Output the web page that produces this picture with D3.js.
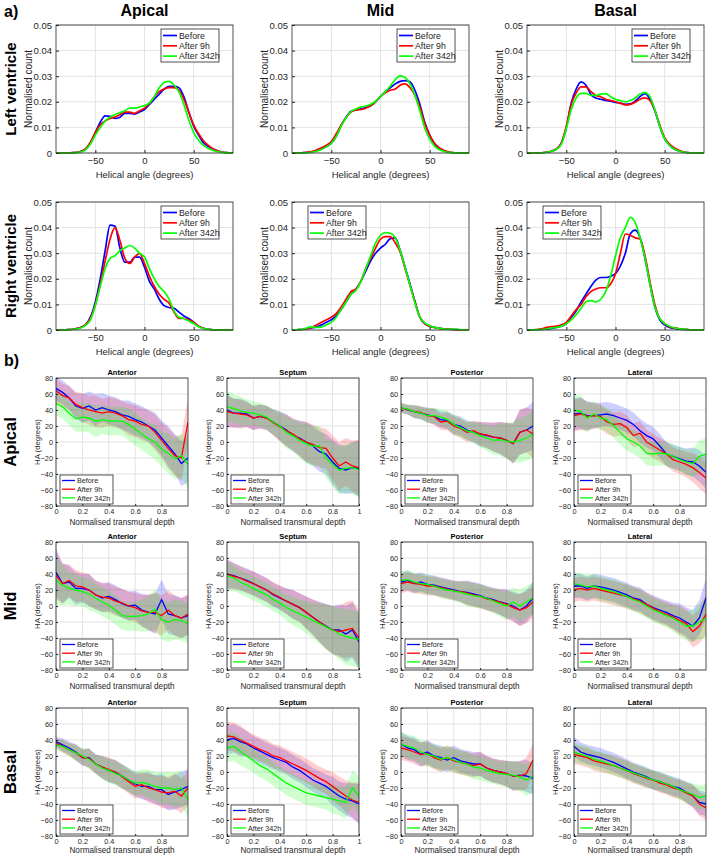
<!DOCTYPE html>
<html>
<head>
<meta charset="utf-8">
<script src="https://cdn.jsdelivr.net/npm/d3@7"></script>
<style>
  body { margin: 0; background: #fff; }
  svg { font-family: "Liberation Sans", Arial, sans-serif; display: block; }
</style>
</head>
<body>
<div id="chart"></div>
<script>
// ---- a) helical angle histograms (grid -90..90 every 5 deg) ----
const haGrid = d3.range(-90, 91, 5);
const seriesNames = ['Before', 'After 9h', 'After 342h'];
const seriesColors = ['#0000ff', '#ff0000', '#00ff00'];
const levels = ['Apical', 'Mid', 'Basal'];
const ventricles = ['Left ventricle', 'Right ventricle'];

const lvApicalBefore = [0,0,0,.0001,.0002,.0006,.0015,.004,.008,.012,.0145,.0143,.0135,.014,.0155,.0155,.0152,.016,.017,.019,.021,.023,.025,.026,.026,.0255,.022,.016,.0105,.007,.004,.0025,.0015,.0008,.0003,.0001,0];
const lvApical9h     = [0,0,0,.0001,.0002,.0006,.0016,.0042,.008,.011,.0125,.0135,.014,.015,.016,.016,.0155,.0165,.0175,.0195,.022,.024,.025,.0255,.0255,.0245,.021,.016,.011,.0075,.0048,.003,.0016,.0008,.0003,.0001,0];
const lvApical342h   = [0,0,0,0,.0001,.0004,.0012,.0035,.007,.010,.0125,.014,.015,.0158,.0165,.0175,.0175,.018,.0185,.0195,.022,.0255,.0275,.028,.0265,.024,.019,.013,.008,.005,.003,.0018,.001,.0005,.0002,0,0];

const lvMidBefore = [0,0,.0001,.0002,.0005,.001,.0017,.0025,.0038,.0065,.0108,.014,.0163,.0168,.0173,.0178,.0185,.02,.022,.024,.0255,.027,.028,.0283,.0278,.0245,.019,.012,.007,.0035,.0018,.0008,.0003,.0001,0,0,0];
const lvMid9h     = [0,0,.0001,.0003,.0006,.0012,.002,.003,.0045,.0075,.011,.0138,.016,.0168,.017,.0175,.0185,.02,.022,.0235,.0245,.025,.0265,.027,.0255,.0225,.018,.0115,.007,.0038,.002,.001,.0004,.0001,0,0,0];
const lvMid342h   = [0,0,0,.0001,.0003,.0007,.0014,.0024,.0038,.0065,.0105,.0138,.0162,.0172,.018,.0183,.019,.0202,.022,.024,.0262,.0287,.0301,.0295,.027,.0225,.0165,.0098,.0054,.0027,.0013,.0006,.0002,.0001,0,0,0];

const lvBasalBefore = [0,0,0,.0001,.0003,.0007,.0015,.004,.010,.0195,.025,.0278,.0265,.0228,.0215,.021,.0205,.0202,.0198,.0195,.019,.0192,.0203,.022,.0232,.021,.0165,.0105,.0055,.003,.0015,.0008,.0003,.0001,0,0,0];
const lvBasal9h     = [0,0,0,.0001,.0004,.0008,.0016,.004,.0105,.019,.0235,.0258,.0258,.024,.0225,.022,.021,.0205,.020,.0195,.0188,.019,.0198,.021,.0215,.0205,.0168,.011,.006,.0035,.002,.001,.0004,.0001,0,0,0];
const lvBasal342h   = [0,0,0,.0001,.0003,.0007,.0014,.0035,.0095,.017,.0215,.0233,.0233,.0225,.0225,.023,.0232,.022,.021,.0205,.020,.0205,.0215,.023,.0236,.022,.017,.0105,.0055,.003,.0015,.0007,.0003,.0001,0,0,0];

const rvApicalBefore = [0,0,.0001,.0002,.0005,.001,.002,.005,.011,.020,.031,.041,.0405,.032,.0265,.0265,.0285,.0285,.0245,.019,.016,.012,.0095,.0088,.0085,.007,.0055,.0045,.003,.0015,.0007,.0003,.0001,0,0,0,0];
const rvApical9h     = [0,0,.0001,.0002,.0005,.001,.002,.0045,.010,.018,.027,.0355,.040,.035,.028,.026,.0285,.0298,.026,.021,.017,.014,.012,.0105,.007,.0045,.0045,.004,.003,.0015,.0007,.0003,.0001,0,0,0,0];
const rvApical342h   = [0,0,.0001,.0002,.0004,.0008,.0018,.004,.0095,.017,.024,.028,.029,.031,.032,.033,.032,.030,.0285,.024,.020,.017,.015,.012,.0075,.005,.0045,.0035,.0025,.0013,.0006,.0003,.0001,0,0,0,0];

const rvMidBefore = [0,.0001,.0002,.0005,.0008,.0012,.002,.003,.004,.0055,.008,.011,.014,.016,.019,.023,.027,.030,.032,.0335,.0357,.036,.031,.0245,.018,.0112,.005,.0025,.0015,.001,.0006,.0004,.0003,.0002,.0001,0,0];
const rvMid9h     = [0,.0001,.0002,.0005,.001,.002,.003,.004,.005,.0065,.009,.012,.015,.016,.019,.024,.028,.032,.0355,.0365,.0365,.034,.0305,.024,.0175,.011,.005,.0025,.0015,.001,.0006,.0004,.0003,.0002,.0001,0,0];
const rvMid342h   = [0,.0001,.0002,.0008,.0012,.001,.0012,.002,.003,.005,.008,.011,.014,.0155,.019,.024,.029,.034,.037,.038,.0378,.036,.031,.0245,.0175,.0105,.005,.0028,.0017,.001,.0006,.0004,.0003,.0004,.0002,0,0];

const rvBasalBefore = [0,0,.0001,.0002,.0003,.0006,.001,.0015,.0025,.005,.0075,.011,.014,.017,.0195,.0205,.0205,.021,.022,.025,.030,.0375,.039,.036,.028,.018,.009,.004,.002,.001,.0006,.0003,.0002,.0001,0,0,0];
const rvBasal9h     = [0,0,.0002,.0005,.001,.0013,.0015,.002,.003,.0055,.008,.010,.013,.015,.016,.0165,.0165,.018,.022,.030,.0375,.037,.036,.0355,.029,.019,.010,.0045,.0025,.0013,.0008,.0005,.0003,.0001,0,0,0];
const rvBasal342h   = [0,0,.0001,.0002,.0004,.0008,.001,.0015,.0025,.004,.006,.0085,.011,.0115,.011,.012,.015,.021,.029,.036,.040,.044,.042,.036,.028,.018,.009,.0045,.0025,.0015,.0008,.0005,.0003,.0001,0,0,0];

// ---- b) HA vs normalised transmural depth (every 0.05) ----
const depthGrid = d3.range(21).map(i => i / 20);
const regions = ['Anterior', 'Septum', 'Posterior', 'Lateral'];

const apAntBefore = [67,62,55,45,42,45,40,43,40,38,34,32,28,25,20,15,5,-5,-15,-27,-20];
const apAnt9h     = [64,58,55,47,43,40,38,36,38,36,33,28,26,22,20,12,2,-8,-17,-20,25];
const apAnt342h   = [48,44,36,29,31,30,26,28,26,26,26,22,16,10,4,0,-9,-14,-21,-17,-28];
const apAntSpread = [15,15,15,16,18,18,20,18,18,18,18,20,20,20,20,22,22,25,25,28,30];

const apSepBefore = [40,36,36,35,30,32,30,25,20,15,8,5,0,-5,-12,-15,-25,-33,-35,-32,-33];
const apSep9h     = [38,36,35,34,30,32,30,24,19,14,10,4,0,-3,-7,-8,-20,-30,-25,-30,-32];
const apSep342h   = [44,42,39,37,36,34,31,25,20,12,8,2,-2,-5,-5,-20,-28,-35,-33,-32,-35];
const apSepSpread = [20,18,18,16,15,15,15,16,18,20,20,22,25,25,25,25,28,30,30,32,35];

const apPostBefore = [43,40,38,36,34,32,28,27,22,20,15,12,10,8,6,5,2,-2,12,15,20];
const apPost9h     = [42,41,38,37,33,32,25,26,20,17,12,14,10,9,6,5,2,-2,12,15,10];
const apPost342h   = [43,41,38,36,33,33,31,28,22,18,14,12,8,5,2,3,1,0,2,5,10];
const apPostSpread = [6,6,8,8,9,10,10,11,12,12,12,13,15,16,18,20,22,25,28,28,30];

const apLatBefore = [35,36,33,33,34,35,33,30,27,22,14,8,4,-5,-15,-18,-21,-24,-25,-30,-38];
const apLat9h     = [33,35,32,33,32,25,22,23,18,8,11,0,-5,-10,-15,-22,-25,-28,-32,-38,-45];
const apLat342h   = [40,38,30,35,30,28,20,12,4,0,-5,-14,-15,-14,-15,-18,-22,-25,-27,-18,-15];
const apLatSpread = [20,20,18,16,15,15,15,15,15,15,15,15,15,15,15,15,15,16,18,20,20];

const midAntBefore = [42,28,30,22,22,20,14,10,12,8,3,0,1,-5,-8,-10,8,-10,-12,-15,-12];
const midAnt9h     = [38,28,32,25,24,20,14,11,10,6,4,0,-2,-6,-8,-8,-12,-5,-12,-15,-10];
const midAnt342h   = [32,26,22,20,18,15,10,5,1,-5,-12,-13,-13,-12,-10,-4,-17,-20,-17,-18,-22];
const midAntSpread = [30,25,20,20,18,20,18,18,18,18,18,18,18,20,22,25,25,25,25,25,25];

const midSepBefore = [40,38,35,32,28,24,20,14,10,6,2,-2,-8,-14,-20,-25,-30,-30,-35,-30,-45];
const midSep9h     = [40,37,35,31,28,24,20,15,11,6,2,-2,-8,-14,-20,-26,-30,-32,-30,-28,-40];
const midSep342h   = [38,35,30,26,22,18,14,8,4,-2,-6,-10,-14,-18,-22,-26,-30,-35,-38,-40,-42];
const midSepSpread = [18,16,15,15,15,15,15,15,15,16,18,18,20,22,25,28,30,32,35,35,35];

const midPostBefore = [30,32,28,30,27,26,24,22,20,18,17,15,13,10,8,5,3,0,-5,0,10];
const midPost9h     = [28,30,28,27,25,25,23,21,19,18,16,14,12,9,7,5,2,-2,-5,-2,5];
const midPost342h   = [32,33,30,28,27,25,22,20,19,17,15,13,12,10,6,3,0,5,0,5,10];
const midPostSpread = [12,12,12,12,12,12,12,12,12,13,15,15,15,15,15,16,18,18,20,20,20];

const midLatBefore = [25,25,22,25,24,22,20,17,14,10,8,2,-2,-5,-8,-12,-15,-20,-25,-15,10];
const midLat9h     = [20,22,20,22,20,18,16,14,12,9,6,2,-3,-7,-10,-14,-18,-22,-32,-25,-10];
const midLat342h   = [28,26,24,25,22,20,18,15,12,8,5,0,-5,-8,-12,-15,-20,-25,-25,-20,-15];
const midLatSpread = [15,15,15,15,15,15,15,15,15,15,15,15,15,15,15,16,18,18,20,22,25];

const basAntBefore = [38,34,30,25,18,18,10,6,2,0,-5,-10,-15,-18,-18,-22,-22,-28,-25,-22,-18];
const basAnt9h     = [36,32,28,24,18,17,10,6,3,0,-6,-12,-18,-16,-20,-22,-25,-26,-24,-30,-20];
const basAnt342h   = [34,32,28,24,20,16,10,5,2,-2,-5,-10,-14,-13,-15,-18,-20,-20,-22,-20,-35];
const basAntSpread = [6,8,8,10,10,12,12,14,15,15,15,15,15,16,18,18,20,20,22,22,22];

const basSepBefore = [40,42,38,35,30,26,22,18,15,12,6,2,-4,-10,-14,-18,-24,-30,-34,-36,-40];
const basSep9h     = [45,44,40,36,32,28,25,20,18,14,10,6,2,-3,-8,-12,-18,-24,-30,-35,-38];
const basSep342h   = [30,32,26,20,14,8,4,-2,-8,-14,-18,-22,-26,-28,-30,-32,-34,-36,-38,-20,-30];
const basSepSpread = [18,18,18,16,15,15,15,15,15,15,15,15,15,15,15,15,18,18,20,22,25];

const basPostBefore = [35,30,28,22,25,20,18,15,18,14,12,10,10,5,2,0,-2,-5,-4,-5,-8];
const basPost9h     = [30,28,25,22,23,18,15,18,14,12,10,8,10,5,2,0,-2,-5,-5,-2,15];
const basPost342h   = [35,32,30,25,22,20,16,18,15,12,10,6,5,2,0,-2,-3,-4,-6,-10,-5];
const basPostSpread = [15,15,15,15,15,15,15,15,15,15,15,15,15,15,15,15,16,18,18,20,20];

const basLatBefore = [32,25,22,20,18,15,12,8,4,0,-3,-6,-10,-12,-15,-18,-20,-25,-30,-38,-40];
const basLat9h     = [22,20,18,14,12,10,8,5,2,-2,-5,-8,-10,-14,-16,-20,-22,-26,-30,-40,-45];
const basLat342h   = [25,22,20,16,14,11,8,5,2,-1,-4,-7,-10,-12,-15,-18,-22,-25,-28,-32,-30];
const basLatSpread = [12,12,12,12,12,12,12,12,12,12,12,12,12,12,12,12,12,13,14,15,15];

// panel tables built from the arrays above
const densityPanels = [
  [[lvApicalBefore, lvApical9h, lvApical342h], [lvMidBefore, lvMid9h, lvMid342h], [lvBasalBefore, lvBasal9h, lvBasal342h]],
  [[rvApicalBefore, rvApical9h, rvApical342h], [rvMidBefore, rvMid9h, rvMid342h], [rvBasalBefore, rvBasal9h, rvBasal342h]]
];
const haPanels = [
  [[apAntBefore, apAnt9h, apAnt342h, apAntSpread], [apSepBefore, apSep9h, apSep342h, apSepSpread],
   [apPostBefore, apPost9h, apPost342h, apPostSpread], [apLatBefore, apLat9h, apLat342h, apLatSpread]],
  [[midAntBefore, midAnt9h, midAnt342h, midAntSpread], [midSepBefore, midSep9h, midSep342h, midSepSpread],
   [midPostBefore, midPost9h, midPost342h, midPostSpread], [midLatBefore, midLat9h, midLat342h, midLatSpread]],
  [[basAntBefore, basAnt9h, basAnt342h, basAntSpread], [basSepBefore, basSep9h, basSep342h, basSepSpread],
   [basPostBefore, basPost9h, basPost342h, basPostSpread], [basLatBefore, basLat9h, basLat342h, basLatSpread]]
];

const svg = d3.select('#chart').append('svg')
  .attr('width', 708)
  .attr('height', 857);

const gridColor = '#e3e3e3';
const boxColor = '#262626';

// ---------- a) ----------
const aLefts = [56, 292, 527], aTops = [25, 202];
const aW = 177, aH = 128;

svg.append('text').attr('x', 4).attr('y', 17)
  .style('font-size', '16px').style('font-weight', 'bold').text('a)');

levels.forEach((lv, i) => {
  svg.append('text').attr('x', aLefts[i] + aW / 2).attr('y', 16)
    .attr('text-anchor', 'middle')
    .style('font-size', '16px').style('font-weight', 'bold').text(lv);
});
ventricles.forEach((v, r) => {
  svg.append('text')
    .attr('transform', `translate(16, ${aTops[r] + aH / 2}) rotate(-90)`)
    .attr('text-anchor', 'middle')
    .style('font-size', '15px').style('font-weight', 'bold').text(v);
});

densityPanels.forEach((row, r) => {
  row.forEach((series, c) => {
    const g = svg.append('g').attr('transform', `translate(${aLefts[c]}, ${aTops[r]})`);
    const x = d3.scaleLinear().domain([-90, 90]).range([0, aW]);
    const y = d3.scaleLinear().domain([0, 0.05]).range([aH, 0]);

    g.append('g').selectAll('line').data([-50, 0, 50]).enter().append('line')
      .attr('x1', d => x(d)).attr('x2', d => x(d)).attr('y1', 0).attr('y2', aH)
      .attr('stroke', gridColor);
    g.append('g').selectAll('line').data(y.ticks(5)).enter().append('line')
      .attr('y1', d => y(d)).attr('y2', d => y(d)).attr('x1', 0).attr('x2', aW)
      .attr('stroke', gridColor);

    const line = d3.line()
      .x((d, i) => x(haGrid[i]))
      .y(d => y(d))
      .curve(d3.curveMonotoneX);
    series.forEach((s, k) => {
      g.append('path').datum(s)
        .attr('d', line)
        .attr('fill', 'none')
        .attr('stroke', seriesColors[k])
        .attr('stroke-width', 1.7);
    });

    const xAxis = g.append('g').attr('transform', `translate(0, ${aH})`)
      .call(d3.axisBottom(x).tickValues([-50, 0, 50]).tickSize(-3).tickPadding(4));
    const yAxis = g.append('g')
      .call(d3.axisLeft(y).ticks(5).tickSize(-3).tickPadding(4)
        .tickFormat(d => d === 0 ? '0' : d3.format('.2f')(d)));
    [xAxis, yAxis].forEach(ax => {
      ax.select('.domain').remove();
      ax.selectAll('line').attr('stroke', boxColor);
      ax.selectAll('text').style('font-size', '9.5px').attr('fill', '#262626');
    });

    g.append('rect').attr('width', aW).attr('height', aH)
      .attr('fill', 'none').attr('stroke', boxColor).attr('stroke-width', 0.8);

    g.append('text').attr('x', aW / 2).attr('y', aH + 25)
      .attr('text-anchor', 'middle').style('font-size', '9.5px').attr('fill', '#262626')
      .text('Helical angle (degrees)');
    g.append('text')
      .attr('transform', `translate(-24.5, ${aH / 2}) rotate(-90)`)
      .attr('text-anchor', 'middle').style('font-size', '10px').attr('fill', '#262626')
      .text('Normalised count');

    // legend
    const lx = (r === 1 && c > 0) ? 16 : aW - 72;
    const leg = g.append('g').attr('transform', `translate(${lx}, 4)`);
    leg.append('rect').attr('width', 58).attr('height', 33)
      .attr('fill', '#fff').attr('stroke', boxColor).attr('stroke-width', 0.8);
    seriesNames.forEach((n, k) => {
      leg.append('line').attr('x1', 2).attr('x2', 16)
        .attr('y1', 6.5 + k * 10.3).attr('y2', 6.5 + k * 10.3)
        .attr('stroke', seriesColors[k]).attr('stroke-width', 1.7);
      leg.append('text').attr('x', 18).attr('y', 9.7 + k * 10.3)
        .style('font-size', '8.8px').attr('fill', '#262626').text(n);
    });
  });
});

// ---------- b) ----------
const bLefts = [56, 227, 401, 574], bTops = [378, 542, 708];
const bW = 132, bH = 128;

svg.append('text').attr('x', 4).attr('y', 366)
  .style('font-size', '16px').style('font-weight', 'bold').text('b)');

levels.forEach((lv, r) => {
  svg.append('text')
    .attr('transform', `translate(16, ${bTops[r] + bH / 2}) rotate(-90)`)
    .attr('text-anchor', 'middle')
    .style('font-size', '16.5px').style('font-weight', 'bold').text(lv);
});

haPanels.forEach((row, r) => {
  row.forEach((p, c) => {
    const g = svg.append('g').attr('transform', `translate(${bLefts[c]}, ${bTops[r]})`);
    const x = d3.scaleLinear().domain([0, 1]).range([0, bW]);
    const y = d3.scaleLinear().domain([-80, 80]).range([bH, 0]);
    const clipId = `clip-${r}-${c}`;
    g.append('clipPath').attr('id', clipId)
      .append('rect').attr('width', bW).attr('height', bH);

    const xt = c === 1 ? [0, 0.2, 0.4, 0.6, 0.8, 1] : [0, 0.2, 0.4, 0.6, 0.8];
    g.append('g').selectAll('line').data(xt).enter().append('line')
      .attr('x1', d => x(d)).attr('x2', d => x(d)).attr('y1', 0).attr('y2', bH)
      .attr('stroke', gridColor);
    g.append('g').selectAll('line').data(d3.range(-80, 81, 20)).enter().append('line')
      .attr('y1', d => y(d)).attr('y2', d => y(d)).attr('x1', 0).attr('x2', bW)
      .attr('stroke', gridColor);

    const spread = p[3];
    const plot = g.append('g').attr('clip-path', `url(#${clipId})`);
    const area = d3.area()
      .x((d, i) => x(depthGrid[i]))
      .y0((d, i) => y(d - spread[i]))
      .y1((d, i) => y(d + spread[i]));
    [0, 1, 2].forEach(k => {
      plot.append('path').datum(p[k])
        .attr('d', area)
        .attr('fill', seriesColors[k])
        .attr('fill-opacity', 0.19)
        .attr('stroke', 'none');
    });
    const line = d3.line()
      .x((d, i) => x(depthGrid[i]))
      .y(d => y(d));
    [0, 1, 2].forEach(k => {
      plot.append('path').datum(p[k])
        .attr('d', line)
        .attr('fill', 'none')
        .attr('stroke', seriesColors[k])
        .attr('stroke-width', 1.3);
    });

    const xAxis = g.append('g').attr('transform', `translate(0, ${bH})`)
      .call(d3.axisBottom(x).tickValues(xt).tickSize(-2).tickPadding(3)
        .tickFormat(d => d === 0 ? '0' : d === 1 ? '1' : d3.format('.1f')(d)));
    const yAxis = g.append('g')
      .call(d3.axisLeft(y).tickValues(d3.range(-80, 81, 20)).tickSize(-2).tickPadding(3));
    [xAxis, yAxis].forEach(ax => {
      ax.select('.domain').remove();
      ax.selectAll('line').attr('stroke', boxColor);
      ax.selectAll('text').style('font-size', '7.3px').attr('fill', '#262626');
    });

    g.append('rect').attr('width', bW).attr('height', bH)
      .attr('fill', 'none').attr('stroke', boxColor).attr('stroke-width', 0.8);

    g.append('text').attr('x', bW / 2).attr('y', -3)
      .attr('text-anchor', 'middle').style('font-size', '7.5px').style('font-weight', 'bold')
      .text(regions[c]);
    g.append('text').attr('x', bW / 2).attr('y', bH + (r < 2 ? 19 : 17))
      .attr('text-anchor', 'middle').style('font-size', '8.2px').attr('fill', '#262626')
      .text('Normalised transmural depth');
    g.append('text')
      .attr('transform', `translate(-16, ${bH / 2}) rotate(-90)`)
      .attr('text-anchor', 'middle').style('font-size', '7.8px').attr('fill', '#262626')
      .text('HA (degrees)');

    const leg = g.append('g').attr('transform', `translate(4, ${bH - 31})`);
    leg.append('rect').attr('width', 53).attr('height', 29)
      .attr('fill', '#fff').attr('stroke', boxColor).attr('stroke-width', 0.8);
    seriesNames.forEach((n, k) => {
      leg.append('line').attr('x1', 2).attr('x2', 15)
        .attr('y1', 5.5 + k * 8.7).attr('y2', 5.5 + k * 8.7)
        .attr('stroke', seriesColors[k]).attr('stroke-width', 1.3);
      leg.append('text').attr('x', 17).attr('y', 8.2 + k * 8.7)
        .style('font-size', '7.2px').attr('fill', '#262626').text(n);
    });
  });
});
</script>
</body>
</html>
